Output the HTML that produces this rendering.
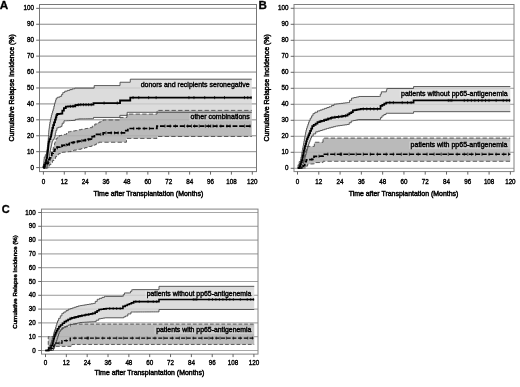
<!DOCTYPE html>
<html><head><meta charset="utf-8"><title>Figure</title>
<style>
html,body{margin:0;padding:0;background:#fff;}
body{width:520px;height:387px;overflow:hidden;font-family:"Liberation Sans", Arial, Helvetica, sans-serif;}
svg{display:block;filter:blur(0.35px);}
.grid{fill:none;}
.border{stroke-width:1;fill:none;}
.axt{stroke:#555;stroke-width:0.9;fill:none;}
.ci{stroke:#484848;stroke-width:0.9;fill:none;}
.main{stroke:#000;fill:none;stroke-linejoin:miter;}
.tick{stroke:#000;stroke-width:0.7;fill:none;}
text{font-family:"Liberation Sans", Arial, Helvetica, sans-serif;fill:#000;stroke:#000;stroke-width:0.3px;}
.tl{font-size:6.8px;stroke-width:0.38px;}
.tt{font-size:6.95px;stroke-width:0.45px;}
.lb{font-size:7px;stroke-width:0.4px;}
.pl{font-size:11px;font-weight:bold;fill:#000;}
</style></head>
<body>
<svg width="520" height="387" viewBox="0 0 520 387">
<rect width="520" height="387" fill="#fff"/>
<g id="chartA">
<line x1="39.5" y1="167.6" x2="256.5" y2="167.6" class="grid" stroke="#8c8c8c" stroke-width="0.9"/>
<line x1="39.5" y1="151.67" x2="256.5" y2="151.67" class="grid" stroke="#8c8c8c" stroke-width="0.9"/>
<line x1="39.5" y1="135.75" x2="256.5" y2="135.75" class="grid" stroke="#8c8c8c" stroke-width="0.9"/>
<line x1="39.5" y1="119.82" x2="256.5" y2="119.82" class="grid" stroke="#8c8c8c" stroke-width="0.9"/>
<line x1="39.5" y1="103.9" x2="256.5" y2="103.9" class="grid" stroke="#8c8c8c" stroke-width="0.9"/>
<line x1="39.5" y1="87.97" x2="256.5" y2="87.97" class="grid" stroke="#8c8c8c" stroke-width="0.9"/>
<line x1="39.5" y1="72.05" x2="256.5" y2="72.05" class="grid" stroke="#8c8c8c" stroke-width="0.9"/>
<line x1="39.5" y1="56.12" x2="256.5" y2="56.12" class="grid" stroke="#8c8c8c" stroke-width="0.9"/>
<line x1="39.5" y1="40.2" x2="256.5" y2="40.2" class="grid" stroke="#8c8c8c" stroke-width="0.9"/>
<line x1="39.5" y1="24.28" x2="256.5" y2="24.28" class="grid" stroke="#8c8c8c" stroke-width="0.9"/>
<line x1="39.5" y1="8.35" x2="256.5" y2="8.35" class="grid" stroke="#8c8c8c" stroke-width="0.9"/>
<path d="M43.5 168 L43.5 165.6 L43.61 165.6 L43.61 163.44 L43.83 163.44 L43.83 161.28 L44.04 161.28 L44.04 159.12 L44.26 159.12 L44.26 156.96 L44.37 156.96 L45.32 156.96 L45.32 154.72 L46.28 154.72 L46.48 154.72 L46.48 152.21 L46.88 152.21 L46.88 149.71 L47.29 149.71 L47.29 147.2 L47.49 147.2 L47.6 147.2 L47.6 145 L47.82 145 L47.82 142.8 L48.03 142.8 L48.03 140.6 L48.25 140.6 L48.25 138.4 L48.36 138.4 L48.42 138.4 L48.42 136.44 L48.55 136.44 L48.55 134.48 L48.68 134.48 L48.68 132.52 L48.81 132.52 L48.81 130.56 L48.88 130.56 L49.03 130.56 L49.03 128.42 L49.34 128.42 L49.34 126.28 L49.64 126.28 L49.64 124.14 L49.94 124.14 L49.94 122 L50.09 122 L50.35 122 L50.35 119.68 L50.88 119.68 L50.88 117.36 L51.4 117.36 L51.4 115.04 L51.66 115.04 L51.97 115.04 L51.97 112.96 L52.61 112.96 L52.61 110.88 L53.25 110.88 L53.25 108.8 L53.57 108.8 L53.87 108.8 L53.87 106.24 L54.48 106.24 L54.48 103.68 L54.78 103.68 L55.07 103.68 L55.07 101.81 L55.65 101.81 L55.65 99.95 L56.23 99.95 L56.23 98.08 L56.52 98.08 L57.64 98.08 L57.64 97.2 L59.9 97.2 L59.9 96.32 L61.03 96.32 L61.63 96.32 L61.63 94.4 L62.85 94.4 L62.85 92.48 L63.46 92.48 L64.76 92.48 L64.76 91.2 L66.06 91.2 L67.3 91.2 L67.3 90.4 L69.79 90.4 L69.79 89.6 L72.28 89.6 L72.28 88.8 L73.52 88.8 L74.74 88.8 L74.74 88.16 L75.95 88.16 L94.17 88.16 L94.17 85.6 L120.03 85.6 L120.03 82.24 L130.27 82.24 L130.27 79.2 L251.75 79.2 L251.75 112.32 L127.15 112.32 L127.15 115.36 L119.86 115.36 L119.86 117.44 L93.48 117.44 L93.48 118.72 L92.35 118.72 L92.35 118.75 L90.1 118.75 L90.1 118.77 L87.84 118.77 L87.84 118.8 L85.58 118.8 L85.58 118.83 L83.33 118.83 L83.33 118.85 L81.07 118.85 L81.07 118.88 L79.94 118.88 L79.08 118.88 L79.08 119.12 L77.34 119.12 L77.34 119.36 L76.47 119.36 L75.26 119.36 L75.26 120.4 L74.04 120.4 L72.98 120.4 L72.98 120.5 L70.85 120.5 L70.85 120.6 L68.73 120.6 L68.73 120.7 L66.6 120.7 L66.6 120.8 L65.54 120.8 L63.98 120.8 L63.98 123.2 L62.42 123.2 L62.24 123.2 L62.24 124.88 L61.9 124.88 L61.9 126.56 L61.72 126.56 L60.64 126.56 L60.64 127.2 L58.47 127.2 L58.47 127.84 L57.38 127.84 L56.91 127.84 L56.91 130.32 L55.95 130.32 L55.95 132.8 L55.47 132.8 L55.3 132.8 L55.3 135.2 L54.95 135.2 L54.95 137.6 L54.78 137.6 L54.17 137.6 L54.17 139.36 L52.96 139.36 L52.96 141.12 L52.35 141.12 L52.18 141.12 L52.18 142.8 L51.83 142.8 L51.83 144.48 L51.66 144.48 L51.45 144.48 L51.45 146.32 L51.05 146.32 L51.05 148.16 L50.64 148.16 L50.64 150 L50.44 150 L50.29 150 L50.29 151.94 L49.99 151.94 L49.99 153.88 L49.68 153.88 L49.68 155.82 L49.38 155.82 L49.38 157.76 L49.23 157.76 L48.97 157.76 L48.97 159.63 L48.45 159.63 L48.45 161.49 L47.93 161.49 L47.93 163.36 L47.66 163.36 L47.49 163.36 L47.49 165.68 L47.14 165.68 L47.14 168 L46.97 168 L44.02 168Z" fill="#dcdcdc" stroke="none"/>
<path d="M44.37 168 L44.8 168 L44.8 166.4 L45.24 166.4 L46.1 166.4 L46.1 164.8 L47.84 164.8 L47.84 163.2 L48.71 163.2 L49.14 163.2 L49.14 160.8 L50.01 160.8 L50.01 158.4 L50.44 158.4 L50.75 158.4 L50.75 156.56 L51.35 156.56 L51.35 154.72 L51.66 154.72 L51.98 154.72 L51.98 152.28 L52.63 152.28 L52.63 149.84 L53.28 149.84 L53.28 147.4 L53.93 147.4 L53.93 144.96 L54.26 144.96 L54.56 144.96 L54.56 143.2 L55.17 143.2 L55.17 141.44 L55.47 141.44 L56.08 141.44 L56.08 138.24 L56.69 138.24 L57.64 138.24 L57.64 136.32 L58.6 136.32 L59.38 136.32 L59.38 135.52 L60.16 135.52 L61.5 135.52 L61.5 134.96 L64.19 134.96 L64.19 134.4 L65.54 134.4 L66.54 134.4 L66.54 133.04 L68.53 133.04 L68.53 131.68 L69.53 131.68 L70.69 131.68 L70.69 131.31 L73 131.31 L73 130.93 L75.32 130.93 L75.32 130.56 L76.47 130.56 L77.34 130.56 L77.34 130.16 L79.08 130.16 L79.08 129.76 L79.94 129.76 L81.05 129.76 L81.05 129.34 L83.28 129.34 L83.28 128.93 L85.5 128.93 L85.5 128.51 L87.72 128.51 L87.72 128.1 L89.94 128.1 L89.94 127.68 L91.05 127.68 L92.31 127.68 L92.31 125.84 L94.82 125.84 L94.82 124 L96.08 124 L97.08 124 L97.08 123 L99.08 123 L99.08 122 L101.07 122 L101.07 121 L103.07 121 L103.07 120 L104.07 120 L119.86 120 L119.86 117.44 L126.97 117.44 L126.97 114.08 L157 114.08 L157 110.4 L251.75 110.4 L251.75 136.48 L157 136.48 L157 138.4 L126.45 138.4 L126.45 142.24 L100.07 142.24 L98.82 142.24 L98.82 143.44 L96.3 143.44 L96.3 144.64 L95.04 144.64 L94.87 144.64 L94.87 145.28 L94.69 145.28 L93.61 145.28 L93.61 145.88 L91.44 145.88 L91.44 146.48 L89.27 146.48 L89.27 147.08 L87.1 147.08 L87.1 147.68 L86.02 147.68 L85 147.68 L85 148.21 L82.98 148.21 L82.98 148.75 L80.96 148.75 L80.96 149.28 L79.94 149.28 L78.73 149.28 L78.73 149.71 L76.3 149.71 L76.3 150.13 L73.87 150.13 L73.87 150.56 L72.65 150.56 L71.09 150.56 L71.09 151.6 L69.53 151.6 L68.55 151.6 L68.55 151.8 L66.6 151.8 L66.6 152 L64.65 152 L64.65 152.2 L62.7 152.2 L62.7 152.4 L61.72 152.4 L60.72 152.4 L60.72 153.56 L58.73 153.56 L58.73 154.72 L57.73 154.72 L56.99 154.72 L56.99 156.64 L55.52 156.64 L55.52 158.56 L54.78 158.56 L54 158.56 L54 160.56 L52.44 160.56 L52.44 162.56 L51.66 162.56 L50.88 162.56 L50.88 164.64 L49.31 164.64 L49.31 166.72 L48.53 166.72 L48.19 166.72 L48.19 168 L47.84 168 L44.37 168Z" fill="#bababa" stroke="none"/>
<line x1="39.5" y1="151.67" x2="256.5" y2="151.67" class="grid" stroke="#8c8c8c" stroke-width="0.9" opacity="0.3"/>
<line x1="39.5" y1="135.75" x2="256.5" y2="135.75" class="grid" stroke="#8c8c8c" stroke-width="0.9" opacity="0.3"/>
<line x1="39.5" y1="119.82" x2="256.5" y2="119.82" class="grid" stroke="#8c8c8c" stroke-width="0.9" opacity="0.3"/>
<line x1="39.5" y1="103.9" x2="256.5" y2="103.9" class="grid" stroke="#8c8c8c" stroke-width="0.9" opacity="0.3"/>
<line x1="39.5" y1="87.97" x2="256.5" y2="87.97" class="grid" stroke="#8c8c8c" stroke-width="0.9" opacity="0.3"/>
<line x1="39.5" y1="72.05" x2="256.5" y2="72.05" class="grid" stroke="#8c8c8c" stroke-width="0.9" opacity="0.3"/>
<line x1="39.5" y1="56.12" x2="256.5" y2="56.12" class="grid" stroke="#8c8c8c" stroke-width="0.9" opacity="0.3"/>
<line x1="39.5" y1="40.2" x2="256.5" y2="40.2" class="grid" stroke="#8c8c8c" stroke-width="0.9" opacity="0.3"/>
<line x1="39.5" y1="24.28" x2="256.5" y2="24.28" class="grid" stroke="#8c8c8c" stroke-width="0.9" opacity="0.3"/>
<rect x="140.1" y="81.5" width="112" height="7.6" fill="#fff" opacity="0.22"/>
<rect x="189.2" y="113.3" width="63" height="7.6" fill="#fff" opacity="0.22"/>
<path d="M43.5 168 L43.5 165.6 L43.61 165.6 L43.61 163.44 L43.83 163.44 L43.83 161.28 L44.04 161.28 L44.04 159.12 L44.26 159.12 L44.26 156.96 L44.37 156.96 L45.32 156.96 L45.32 154.72 L46.28 154.72 L46.48 154.72 L46.48 152.21 L46.88 152.21 L46.88 149.71 L47.29 149.71 L47.29 147.2 L47.49 147.2 L47.6 147.2 L47.6 145 L47.82 145 L47.82 142.8 L48.03 142.8 L48.03 140.6 L48.25 140.6 L48.25 138.4 L48.36 138.4 L48.42 138.4 L48.42 136.44 L48.55 136.44 L48.55 134.48 L48.68 134.48 L48.68 132.52 L48.81 132.52 L48.81 130.56 L48.88 130.56 L49.03 130.56 L49.03 128.42 L49.34 128.42 L49.34 126.28 L49.64 126.28 L49.64 124.14 L49.94 124.14 L49.94 122 L50.09 122 L50.35 122 L50.35 119.68 L50.88 119.68 L50.88 117.36 L51.4 117.36 L51.4 115.04 L51.66 115.04 L51.97 115.04 L51.97 112.96 L52.61 112.96 L52.61 110.88 L53.25 110.88 L53.25 108.8 L53.57 108.8 L53.87 108.8 L53.87 106.24 L54.48 106.24 L54.48 103.68 L54.78 103.68 L55.07 103.68 L55.07 101.81 L55.65 101.81 L55.65 99.95 L56.23 99.95 L56.23 98.08 L56.52 98.08 L57.64 98.08 L57.64 97.2 L59.9 97.2 L59.9 96.32 L61.03 96.32 L61.63 96.32 L61.63 94.4 L62.85 94.4 L62.85 92.48 L63.46 92.48 L64.76 92.48 L64.76 91.2 L66.06 91.2 L67.3 91.2 L67.3 90.4 L69.79 90.4 L69.79 89.6 L72.28 89.6 L72.28 88.8 L73.52 88.8 L74.74 88.8 L74.74 88.16 L75.95 88.16 L94.17 88.16 L94.17 85.6 L120.03 85.6 L120.03 82.24 L130.27 82.24 L130.27 79.2 L251.75 79.2" class="ci"/>
<path d="M44.02 168 L46.97 168 L47.14 168 L47.14 165.68 L47.49 165.68 L47.49 163.36 L47.66 163.36 L47.93 163.36 L47.93 161.49 L48.45 161.49 L48.45 159.63 L48.97 159.63 L48.97 157.76 L49.23 157.76 L49.38 157.76 L49.38 155.82 L49.68 155.82 L49.68 153.88 L49.99 153.88 L49.99 151.94 L50.29 151.94 L50.29 150 L50.44 150 L50.64 150 L50.64 148.16 L51.05 148.16 L51.05 146.32 L51.45 146.32 L51.45 144.48 L51.66 144.48 L51.83 144.48 L51.83 142.8 L52.18 142.8 L52.18 141.12 L52.35 141.12 L52.96 141.12 L52.96 139.36 L54.17 139.36 L54.17 137.6 L54.78 137.6 L54.95 137.6 L54.95 135.2 L55.3 135.2 L55.3 132.8 L55.47 132.8 L55.95 132.8 L55.95 130.32 L56.91 130.32 L56.91 127.84 L57.38 127.84 L58.47 127.84 L58.47 127.2 L60.64 127.2 L60.64 126.56 L61.72 126.56 L61.9 126.56 L61.9 124.88 L62.24 124.88 L62.24 123.2 L62.42 123.2 L63.98 123.2 L63.98 120.8 L65.54 120.8 L66.6 120.8 L66.6 120.7 L68.73 120.7 L68.73 120.6 L70.85 120.6 L70.85 120.5 L72.98 120.5 L72.98 120.4 L74.04 120.4 L75.26 120.4 L75.26 119.36 L76.47 119.36 L77.34 119.36 L77.34 119.12 L79.08 119.12 L79.08 118.88 L79.94 118.88 L81.07 118.88 L81.07 118.85 L83.33 118.85 L83.33 118.83 L85.58 118.83 L85.58 118.8 L87.84 118.8 L87.84 118.77 L90.1 118.77 L90.1 118.75 L92.35 118.75 L92.35 118.72 L93.48 118.72 L93.48 117.44 L119.86 117.44 L119.86 115.36 L127.15 115.36 L127.15 112.32 L251.75 112.32" class="ci"/>
<path d="M44.37 168 L44.8 168 L44.8 166.4 L45.24 166.4 L46.1 166.4 L46.1 164.8 L47.84 164.8 L47.84 163.2 L48.71 163.2 L49.14 163.2 L49.14 160.8 L50.01 160.8 L50.01 158.4 L50.44 158.4 L50.75 158.4 L50.75 156.56 L51.35 156.56 L51.35 154.72 L51.66 154.72 L51.98 154.72 L51.98 152.28 L52.63 152.28 L52.63 149.84 L53.28 149.84 L53.28 147.4 L53.93 147.4 L53.93 144.96 L54.26 144.96 L54.56 144.96 L54.56 143.2 L55.17 143.2 L55.17 141.44 L55.47 141.44 L56.08 141.44 L56.08 138.24 L56.69 138.24 L57.64 138.24 L57.64 136.32 L58.6 136.32 L59.38 136.32 L59.38 135.52 L60.16 135.52 L61.5 135.52 L61.5 134.96 L64.19 134.96 L64.19 134.4 L65.54 134.4 L66.54 134.4 L66.54 133.04 L68.53 133.04 L68.53 131.68 L69.53 131.68 L70.69 131.68 L70.69 131.31 L73 131.31 L73 130.93 L75.32 130.93 L75.32 130.56 L76.47 130.56 L77.34 130.56 L77.34 130.16 L79.08 130.16 L79.08 129.76 L79.94 129.76 L81.05 129.76 L81.05 129.34 L83.28 129.34 L83.28 128.93 L85.5 128.93 L85.5 128.51 L87.72 128.51 L87.72 128.1 L89.94 128.1 L89.94 127.68 L91.05 127.68 L92.31 127.68 L92.31 125.84 L94.82 125.84 L94.82 124 L96.08 124 L97.08 124 L97.08 123 L99.08 123 L99.08 122 L101.07 122 L101.07 121 L103.07 121 L103.07 120 L104.07 120 L119.86 120 L119.86 117.44 L126.97 117.44 L126.97 114.08 L157 114.08 L157 110.4 L251.75 110.4" class="ci" stroke-dasharray="4.3 2.3"/>
<path d="M44.37 168 L47.84 168 L48.19 168 L48.19 166.72 L48.53 166.72 L49.31 166.72 L49.31 164.64 L50.88 164.64 L50.88 162.56 L51.66 162.56 L52.44 162.56 L52.44 160.56 L54 160.56 L54 158.56 L54.78 158.56 L55.52 158.56 L55.52 156.64 L56.99 156.64 L56.99 154.72 L57.73 154.72 L58.73 154.72 L58.73 153.56 L60.72 153.56 L60.72 152.4 L61.72 152.4 L62.7 152.4 L62.7 152.2 L64.65 152.2 L64.65 152 L66.6 152 L66.6 151.8 L68.55 151.8 L68.55 151.6 L69.53 151.6 L71.09 151.6 L71.09 150.56 L72.65 150.56 L73.87 150.56 L73.87 150.13 L76.3 150.13 L76.3 149.71 L78.73 149.71 L78.73 149.28 L79.94 149.28 L80.96 149.28 L80.96 148.75 L82.98 148.75 L82.98 148.21 L85 148.21 L85 147.68 L86.02 147.68 L87.1 147.68 L87.1 147.08 L89.27 147.08 L89.27 146.48 L91.44 146.48 L91.44 145.88 L93.61 145.88 L93.61 145.28 L94.69 145.28 L94.87 145.28 L94.87 144.64 L95.04 144.64 L96.3 144.64 L96.3 143.44 L98.82 143.44 L98.82 142.24 L100.07 142.24 L126.45 142.24 L126.45 138.4 L157 138.4 L157 136.48 L251.75 136.48" class="ci" stroke-dasharray="4.3 2.3"/>
<path d="M43.5 168 L43.67 168 L43.67 166.72 L43.85 166.72 L44.32 166.72 L44.32 164.64 L45.28 164.64 L45.28 162.56 L45.76 162.56 L46.02 162.56 L46.02 160.21 L46.54 160.21 L46.54 157.87 L47.06 157.87 L47.06 155.52 L47.32 155.52 L47.43 155.52 L47.43 153.56 L47.64 153.56 L47.64 151.6 L47.86 151.6 L47.86 149.64 L48.08 149.64 L48.08 147.68 L48.19 147.68 L48.3 147.68 L48.3 145.65 L48.53 145.65 L48.53 143.63 L48.76 143.63 L48.76 141.6 L48.88 141.6 L49.4 141.6 L49.4 139.12 L50.44 139.12 L50.44 136.64 L50.96 136.64 L51.14 136.64 L51.14 134.61 L51.48 134.61 L51.48 132.59 L51.83 132.59 L51.83 130.56 L52 130.56 L52.39 130.56 L52.39 127.84 L53.17 127.84 L53.17 125.12 L53.57 125.12 L54.04 125.12 L54.04 122.4 L55 122.4 L55 119.68 L55.47 119.68 L55.78 119.68 L55.78 117.36 L56.39 117.36 L56.39 115.04 L56.69 115.04 L57.21 115.04 L57.21 114 L57.73 114 L58.73 114 L58.73 113.8 L60.72 113.8 L60.72 113.6 L61.72 113.6 L62.33 113.6 L62.33 110.56 L62.94 110.56 L63.89 110.56 L63.89 108.16 L64.85 108.16 L65.8 108.16 L65.8 106.56 L66.75 106.56 L67.97 106.56 L67.97 106.45 L70.4 106.45 L70.4 106.35 L72.83 106.35 L72.83 106.24 L74.04 106.24 L75.26 106.24 L75.26 105.12 L76.47 105.12 L77.34 105.12 L77.34 104.88 L79.08 104.88 L79.08 104.64 L79.94 104.64 L93.48 104.64 L93.48 103.04 L120.03 103.04 L120.03 100.48 L130.27 100.48 L130.27 97.6 L251.75 97.6" class="main" stroke-width="1.8"/>
<path d="M70.4 104.8V108M73 104.69V107.89M75.6 103.92V107.12M78.21 103.28V106.48M80.81 103.04V106.24M83.41 103.04V106.24M86.02 103.04V106.24M88.62 103.04V106.24M91.22 103.04V106.24M104.07 101.44V104.64M117.25 101.44V104.64M133.05 96V99.2M138.77 96V99.2M148.67 96V99.2M156.13 96V99.2M188.93 96V99.2M193.96 96V99.2M204.72 96V99.2M214.61 96V99.2M224.5 96V99.2M244.46 96V99.2M247.76 96V99.2M251.05 96V99.2" class="tick"/>
<path d="M43.5 168 L43.67 168 L43.67 166.72 L43.85 166.72 L44.8 166.72 L44.8 165.04 L46.71 165.04 L46.71 163.36 L47.66 163.36 L48.07 163.36 L48.07 161.49 L48.88 161.49 L48.88 159.63 L49.69 159.63 L49.69 157.76 L50.09 157.76 L50.66 157.76 L50.66 155.48 L51.79 155.48 L51.79 153.2 L52.35 153.2 L53.13 153.2 L53.13 151.24 L54.69 151.24 L54.69 149.28 L55.47 149.28 L57.04 149.28 L57.04 147.04 L58.6 147.04 L59.77 147.04 L59.77 146.24 L62.11 146.24 L62.11 145.44 L63.28 145.44 L64.45 145.44 L64.45 145.04 L66.8 145.04 L66.8 144.64 L67.97 144.64 L69.14 144.64 L69.14 143.68 L71.48 143.68 L71.48 142.72 L72.65 142.72 L73.87 142.72 L73.87 142.21 L76.3 142.21 L76.3 141.71 L78.73 141.71 L78.73 141.2 L79.94 141.2 L81.05 141.2 L81.05 140.77 L83.28 140.77 L83.28 140.34 L85.5 140.34 L85.5 139.9 L87.72 139.9 L87.72 139.47 L89.94 139.47 L89.94 139.04 L91.05 139.04 L92.18 139.04 L92.18 136.72 L94.43 136.72 L94.43 134.4 L95.56 134.4 L103.2 134.4 L103.2 132.8 L124.72 132.8 L125.76 132.8 L125.76 130.64 L127.84 130.64 L127.84 128.48 L128.88 128.48 L155.26 128.48 L156.91 128.48 L156.91 126.08 L158.56 126.08 L251.75 126.08" class="main" stroke-width="1.7" stroke-dasharray="4.8 1.8"/>
<path d="M57.38 146.31V149.51M61.72 144.37V147.57M66.06 143.37V146.57M69.53 142.4V145.6M73 141.05V144.25M77.34 140.14V143.34M81.68 139.26V142.46M85.15 138.59V141.79M88.62 137.91V141.11M92.09 136.37V139.57M100.77 132.8V136M105.97 131.2V134.4M111.18 131.2V134.4M114.65 131.2V134.4M118.12 131.2V134.4M121.59 131.2V134.4M133.74 126.88V130.08M138.95 126.88V130.08M144.15 126.88V130.08M149.36 126.88V130.08M164.98 124.48V127.68M170.18 124.48V127.68M175.39 124.48V127.68M184.59 124.48V127.68M187.71 124.48V127.68M191.53 124.48V127.68M194.65 124.48V127.68M199.17 124.48V127.68M205.41 124.48V127.68M208.54 124.48V127.68M210.79 124.48V127.68M213.05 124.48V127.68M216.87 124.48V127.68M220.86 124.48V127.68M226.93 124.48V127.68M230.06 124.48V127.68M244.63 124.48V127.68M250.01 124.48V127.68" class="tick"/>
<rect x="39.5" y="4.5" width="217" height="167.1" class="border" stroke="#777"/>
<text transform="translate(33.9 169.7) scale(0.92 1)" text-anchor="end" class="tl">0</text>
<text transform="translate(33.9 153.77) scale(0.92 1)" text-anchor="end" class="tl">10</text>
<text transform="translate(33.9 137.85) scale(0.92 1)" text-anchor="end" class="tl">20</text>
<text transform="translate(33.9 121.92) scale(0.92 1)" text-anchor="end" class="tl">30</text>
<text transform="translate(33.9 106) scale(0.92 1)" text-anchor="end" class="tl">40</text>
<text transform="translate(33.9 90.07) scale(0.92 1)" text-anchor="end" class="tl">50</text>
<text transform="translate(33.9 74.15) scale(0.92 1)" text-anchor="end" class="tl">60</text>
<text transform="translate(33.9 58.22) scale(0.92 1)" text-anchor="end" class="tl">70</text>
<text transform="translate(33.9 42.3) scale(0.92 1)" text-anchor="end" class="tl">80</text>
<text transform="translate(33.9 26.38) scale(0.92 1)" text-anchor="end" class="tl">90</text>
<text transform="translate(33.9 10.45) scale(0.92 1)" text-anchor="end" class="tl">100</text>
<text transform="translate(43.4 183.6) scale(0.92 1)" text-anchor="middle" class="tl">0</text>
<text transform="translate(64.29 183.6) scale(0.92 1)" text-anchor="middle" class="tl">12</text>
<text transform="translate(85.18 183.6) scale(0.92 1)" text-anchor="middle" class="tl">24</text>
<text transform="translate(106.07 183.6) scale(0.92 1)" text-anchor="middle" class="tl">36</text>
<text transform="translate(126.96 183.6) scale(0.92 1)" text-anchor="middle" class="tl">48</text>
<text transform="translate(147.85 183.6) scale(0.92 1)" text-anchor="middle" class="tl">60</text>
<text transform="translate(168.74 183.6) scale(0.92 1)" text-anchor="middle" class="tl">72</text>
<text transform="translate(189.63 183.6) scale(0.92 1)" text-anchor="middle" class="tl">84</text>
<text transform="translate(210.52 183.6) scale(0.92 1)" text-anchor="middle" class="tl">96</text>
<text transform="translate(231.41 183.6) scale(0.92 1)" text-anchor="middle" class="tl">108</text>
<text transform="translate(252.3 183.6) scale(0.92 1)" text-anchor="middle" class="tl">120</text>
<path d="M36.2 167.6H39.5M36.2 151.67H39.5M36.2 135.75H39.5M36.2 119.82H39.5M36.2 103.9H39.5M36.2 87.97H39.5M36.2 72.05H39.5M36.2 56.12H39.5M36.2 40.2H39.5M36.2 24.28H39.5M36.2 8.35H39.5M43.4 171.6V174.6M64.29 171.6V174.6M85.18 171.6V174.6M106.07 171.6V174.6M126.96 171.6V174.6M147.85 171.6V174.6M168.74 171.6V174.6M189.63 171.6V174.6M210.52 171.6V174.6M231.41 171.6V174.6M252.3 171.6V174.6" class="axt"/>
<text transform="translate(14.3 87.8) rotate(-90)" text-anchor="middle" class="tt" style="font-size:7px">Cumulative Relapse Incidence (%)</text>
<text x="148.4" y="195.8" text-anchor="middle" class="tt">Time after Transplantation (Months)</text>
<text x="249.6" y="87.4" text-anchor="end" class="lb" style="font-size:7px">donors and recipients seronegative</text>
<text x="249.7" y="119.2" text-anchor="end" class="lb" style="font-size:7px">other combinations</text>
<text x="-0.2" y="8.9" class="pl" style="font-size:11.7px">A</text>
</g>
<g id="chartB">
<line x1="294" y1="168.3" x2="514" y2="168.3" class="grid" stroke="#a2a2a2" stroke-width="0.95"/>
<line x1="294" y1="152.3" x2="514" y2="152.3" class="grid" stroke="#a2a2a2" stroke-width="0.95"/>
<line x1="294" y1="136.3" x2="514" y2="136.3" class="grid" stroke="#a2a2a2" stroke-width="0.95"/>
<line x1="294" y1="120.3" x2="514" y2="120.3" class="grid" stroke="#a2a2a2" stroke-width="0.95"/>
<line x1="294" y1="104.3" x2="514" y2="104.3" class="grid" stroke="#a2a2a2" stroke-width="0.95"/>
<line x1="294" y1="88.3" x2="514" y2="88.3" class="grid" stroke="#a2a2a2" stroke-width="0.95"/>
<line x1="294" y1="72.3" x2="514" y2="72.3" class="grid" stroke="#a2a2a2" stroke-width="0.95"/>
<line x1="294" y1="56.3" x2="514" y2="56.3" class="grid" stroke="#a2a2a2" stroke-width="0.95"/>
<line x1="294" y1="40.3" x2="514" y2="40.3" class="grid" stroke="#a2a2a2" stroke-width="0.95"/>
<line x1="294" y1="24.3" x2="514" y2="24.3" class="grid" stroke="#a2a2a2" stroke-width="0.95"/>
<line x1="294" y1="8.3" x2="514" y2="8.3" class="grid" stroke="#a2a2a2" stroke-width="0.95"/>
<path d="M298.05 168 L298.05 164.8 L299.21 164.8 L299.21 161.6 L300.36 161.6 L300.57 161.6 L300.57 159.32 L300.99 159.32 L300.99 157.04 L301.41 157.04 L301.41 154.76 L301.83 154.76 L301.83 152.48 L302.25 152.48 L302.25 150.2 L302.67 150.2 L302.67 147.92 L303.09 147.92 L303.09 145.64 L303.51 145.64 L303.51 143.36 L303.72 143.36 L303.93 143.36 L303.93 141.17 L304.34 141.17 L304.34 138.99 L304.76 138.99 L304.76 136.8 L305.17 136.8 L305.17 134.61 L305.58 134.61 L305.58 132.43 L306 132.43 L306 130.24 L306.2 130.24 L306.54 130.24 L306.54 128.26 L307.21 128.26 L307.21 126.27 L307.89 126.27 L307.89 124.29 L308.56 124.29 L308.56 122.3 L309.23 122.3 L309.23 120.32 L309.57 120.32 L310.25 120.32 L310.25 118.08 L311.61 118.08 L311.61 115.84 L312.97 115.84 L312.97 113.6 L313.65 113.6 L314.93 113.6 L314.93 112.24 L317.5 112.24 L317.5 110.88 L318.78 110.88 L319.93 110.88 L319.93 110.05 L322.24 110.05 L322.24 109.22 L324.54 109.22 L324.54 108.38 L326.84 108.38 L326.84 107.55 L329.15 107.55 L329.15 106.72 L330.3 106.72 L331.54 106.72 L331.54 105.44 L334.02 105.44 L334.02 104.16 L335.26 104.16 L336.37 104.16 L336.37 103.89 L338.58 103.89 L338.58 103.63 L340.8 103.63 L340.8 103.36 L343.01 103.36 L343.01 103.09 L345.23 103.09 L345.23 102.83 L347.44 102.83 L347.44 102.56 L348.55 102.56 L349.57 102.56 L349.57 100.32 L351.6 100.32 L351.6 98.08 L352.62 98.08 L353.86 98.08 L353.86 97.55 L356.34 97.55 L356.34 97.01 L358.82 97.01 L358.82 96.48 L360.06 96.48 L379.73 96.48 L380.26 96.48 L380.26 94.16 L381.32 94.16 L381.32 91.84 L381.86 91.84 L386.11 91.84 L386.37 91.84 L386.37 90.16 L386.91 90.16 L386.91 88.48 L387.17 88.48 L413.57 88.48 L413.57 86.56 L510.3 86.56 L510.3 111.68 L413.57 111.68 L413.57 113.28 L387.17 113.28 L386.06 113.28 L386.06 114.56 L383.85 114.56 L383.85 115.84 L382.74 115.84 L381.99 115.84 L381.99 117.68 L380.48 117.68 L380.48 119.52 L379.73 119.52 L358.82 119.52 L357.73 119.52 L357.73 120 L355.55 120 L355.55 120.48 L353.36 120.48 L353.36 120.96 L352.27 120.96 L351.25 120.96 L351.25 122.72 L349.21 122.72 L349.21 124.48 L348.19 124.48 L347.04 124.48 L347.04 124.8 L344.74 124.8 L344.74 125.12 L342.44 125.12 L342.44 125.44 L340.13 125.44 L340.13 125.76 L337.83 125.76 L337.83 126.08 L336.68 126.08 L335.55 126.08 L335.55 126.68 L333.29 126.68 L333.29 127.28 L331.03 127.28 L331.03 127.88 L328.77 127.88 L328.77 128.48 L327.64 128.48 L326.58 128.48 L326.58 129.15 L324.45 129.15 L324.45 129.82 L322.33 129.82 L322.33 130.5 L320.2 130.5 L320.2 131.17 L318.07 131.17 L318.07 131.84 L317.01 131.84 L315.73 131.84 L315.73 133.92 L313.16 133.92 L313.16 136 L311.87 136 L311.47 136 L311.47 138.04 L310.68 138.04 L310.68 140.08 L309.88 140.08 L309.88 142.12 L309.08 142.12 L309.08 144.16 L308.68 144.16 L308.4 144.16 L308.4 146.24 L307.84 146.24 L307.84 148.32 L307.28 148.32 L307.28 150.4 L306.72 150.4 L306.72 152.48 L306.16 152.48 L306.16 154.56 L305.6 154.56 L305.6 156.64 L305.32 156.64 L304.98 156.64 L304.98 158.91 L304.31 158.91 L304.31 161.18 L303.64 161.18 L303.64 163.46 L302.96 163.46 L302.96 165.73 L302.29 165.73 L302.29 168 L301.95 168 L298.05 168Z" fill="#dcdcdc" stroke="none"/>
<path d="M301.24 168 L301.58 168 L301.58 165.6 L302.24 165.6 L302.24 163.2 L302.9 163.2 L302.9 160.8 L303.57 160.8 L303.57 158.4 L303.9 158.4 L304.23 158.4 L304.23 156 L304.9 156 L304.9 153.6 L305.56 153.6 L305.56 151.2 L306.23 151.2 L306.23 148.8 L306.56 148.8 L307.27 148.8 L307.27 146.4 L307.98 146.4 L314.35 146.4 L314.35 142.24 L323.04 142.24 L323.04 138.08 L510.3 138.08 L510.3 161.28 L323.04 161.28 L323.04 162.56 L314.35 162.56 L314.35 163.84 L313.38 163.84 L313.38 163.95 L311.43 163.95 L311.43 164.05 L309.48 164.05 L309.48 164.16 L308.51 164.16 L307.58 164.16 L307.58 166.08 L305.72 166.08 L305.72 168 L304.79 168 L301.24 168Z" fill="#bababa" stroke="none"/>
<line x1="294" y1="152.3" x2="514" y2="152.3" class="grid" stroke="#a2a2a2" stroke-width="0.95" opacity="0.3"/>
<line x1="294" y1="136.3" x2="514" y2="136.3" class="grid" stroke="#a2a2a2" stroke-width="0.95" opacity="0.3"/>
<line x1="294" y1="120.3" x2="514" y2="120.3" class="grid" stroke="#a2a2a2" stroke-width="0.95" opacity="0.3"/>
<line x1="294" y1="104.3" x2="514" y2="104.3" class="grid" stroke="#a2a2a2" stroke-width="0.95" opacity="0.3"/>
<line x1="294" y1="88.3" x2="514" y2="88.3" class="grid" stroke="#a2a2a2" stroke-width="0.95" opacity="0.3"/>
<line x1="294" y1="72.3" x2="514" y2="72.3" class="grid" stroke="#a2a2a2" stroke-width="0.95" opacity="0.3"/>
<line x1="294" y1="56.3" x2="514" y2="56.3" class="grid" stroke="#a2a2a2" stroke-width="0.95" opacity="0.3"/>
<line x1="294" y1="40.3" x2="514" y2="40.3" class="grid" stroke="#a2a2a2" stroke-width="0.95" opacity="0.3"/>
<line x1="294" y1="24.3" x2="514" y2="24.3" class="grid" stroke="#a2a2a2" stroke-width="0.95" opacity="0.3"/>
<rect x="399.6" y="90" width="110.6" height="7.6" fill="#fff" opacity="0.22"/>
<rect x="409" y="141.5" width="101" height="7.6" fill="#fff" opacity="0.22"/>
<path d="M298.05 168 L298.05 164.8 L299.21 164.8 L299.21 161.6 L300.36 161.6 L300.57 161.6 L300.57 159.32 L300.99 159.32 L300.99 157.04 L301.41 157.04 L301.41 154.76 L301.83 154.76 L301.83 152.48 L302.25 152.48 L302.25 150.2 L302.67 150.2 L302.67 147.92 L303.09 147.92 L303.09 145.64 L303.51 145.64 L303.51 143.36 L303.72 143.36 L303.93 143.36 L303.93 141.17 L304.34 141.17 L304.34 138.99 L304.76 138.99 L304.76 136.8 L305.17 136.8 L305.17 134.61 L305.58 134.61 L305.58 132.43 L306 132.43 L306 130.24 L306.2 130.24 L306.54 130.24 L306.54 128.26 L307.21 128.26 L307.21 126.27 L307.89 126.27 L307.89 124.29 L308.56 124.29 L308.56 122.3 L309.23 122.3 L309.23 120.32 L309.57 120.32 L310.25 120.32 L310.25 118.08 L311.61 118.08 L311.61 115.84 L312.97 115.84 L312.97 113.6 L313.65 113.6 L314.93 113.6 L314.93 112.24 L317.5 112.24 L317.5 110.88 L318.78 110.88 L319.93 110.88 L319.93 110.05 L322.24 110.05 L322.24 109.22 L324.54 109.22 L324.54 108.38 L326.84 108.38 L326.84 107.55 L329.15 107.55 L329.15 106.72 L330.3 106.72 L331.54 106.72 L331.54 105.44 L334.02 105.44 L334.02 104.16 L335.26 104.16 L336.37 104.16 L336.37 103.89 L338.58 103.89 L338.58 103.63 L340.8 103.63 L340.8 103.36 L343.01 103.36 L343.01 103.09 L345.23 103.09 L345.23 102.83 L347.44 102.83 L347.44 102.56 L348.55 102.56 L349.57 102.56 L349.57 100.32 L351.6 100.32 L351.6 98.08 L352.62 98.08 L353.86 98.08 L353.86 97.55 L356.34 97.55 L356.34 97.01 L358.82 97.01 L358.82 96.48 L360.06 96.48 L379.73 96.48 L380.26 96.48 L380.26 94.16 L381.32 94.16 L381.32 91.84 L381.86 91.84 L386.11 91.84 L386.37 91.84 L386.37 90.16 L386.91 90.16 L386.91 88.48 L387.17 88.48 L413.57 88.48 L413.57 86.56 L510.3 86.56" class="ci"/>
<path d="M298.05 168 L301.95 168 L302.29 168 L302.29 165.73 L302.96 165.73 L302.96 163.46 L303.64 163.46 L303.64 161.18 L304.31 161.18 L304.31 158.91 L304.98 158.91 L304.98 156.64 L305.32 156.64 L305.6 156.64 L305.6 154.56 L306.16 154.56 L306.16 152.48 L306.72 152.48 L306.72 150.4 L307.28 150.4 L307.28 148.32 L307.84 148.32 L307.84 146.24 L308.4 146.24 L308.4 144.16 L308.68 144.16 L309.08 144.16 L309.08 142.12 L309.88 142.12 L309.88 140.08 L310.68 140.08 L310.68 138.04 L311.47 138.04 L311.47 136 L311.87 136 L313.16 136 L313.16 133.92 L315.73 133.92 L315.73 131.84 L317.01 131.84 L318.07 131.84 L318.07 131.17 L320.2 131.17 L320.2 130.5 L322.33 130.5 L322.33 129.82 L324.45 129.82 L324.45 129.15 L326.58 129.15 L326.58 128.48 L327.64 128.48 L328.77 128.48 L328.77 127.88 L331.03 127.88 L331.03 127.28 L333.29 127.28 L333.29 126.68 L335.55 126.68 L335.55 126.08 L336.68 126.08 L337.83 126.08 L337.83 125.76 L340.13 125.76 L340.13 125.44 L342.44 125.44 L342.44 125.12 L344.74 125.12 L344.74 124.8 L347.04 124.8 L347.04 124.48 L348.19 124.48 L349.21 124.48 L349.21 122.72 L351.25 122.72 L351.25 120.96 L352.27 120.96 L353.36 120.96 L353.36 120.48 L355.55 120.48 L355.55 120 L357.73 120 L357.73 119.52 L358.82 119.52 L379.73 119.52 L380.48 119.52 L380.48 117.68 L381.99 117.68 L381.99 115.84 L382.74 115.84 L383.85 115.84 L383.85 114.56 L386.06 114.56 L386.06 113.28 L387.17 113.28 L413.57 113.28 L413.57 111.68 L510.3 111.68" class="ci"/>
<path d="M301.24 168 L301.58 168 L301.58 165.6 L302.24 165.6 L302.24 163.2 L302.9 163.2 L302.9 160.8 L303.57 160.8 L303.57 158.4 L303.9 158.4 L304.23 158.4 L304.23 156 L304.9 156 L304.9 153.6 L305.56 153.6 L305.56 151.2 L306.23 151.2 L306.23 148.8 L306.56 148.8 L307.27 148.8 L307.27 146.4 L307.98 146.4 L314.35 146.4 L314.35 142.24 L323.04 142.24 L323.04 138.08 L510.3 138.08" class="ci" stroke-dasharray="4.3 2.3"/>
<path d="M301.24 168 L304.79 168 L305.72 168 L305.72 166.08 L307.58 166.08 L307.58 164.16 L308.51 164.16 L309.48 164.16 L309.48 164.05 L311.43 164.05 L311.43 163.95 L313.38 163.95 L313.38 163.84 L314.35 163.84 L314.35 162.56 L323.04 162.56 L323.04 161.28 L510.3 161.28" class="ci" stroke-dasharray="4.3 2.3"/>
<path d="M297.7 168 L299.12 168 L299.49 168 L299.49 166 L300.25 166 L300.25 164 L301 164 L301 162 L301.75 162 L301.75 160 L302.13 160 L302.38 160 L302.38 157.66 L302.87 157.66 L302.87 155.33 L303.37 155.33 L303.37 152.99 L303.87 152.99 L303.87 150.66 L304.36 150.66 L304.36 148.32 L304.61 148.32 L304.92 148.32 L304.92 146.04 L305.54 146.04 L305.54 143.76 L306.16 143.76 L306.16 141.48 L306.78 141.48 L306.78 139.2 L307.09 139.2 L307.5 139.2 L307.5 137.28 L308.33 137.28 L308.33 135.36 L309.16 135.36 L309.16 133.44 L309.57 133.44 L310.1 133.44 L310.1 130.99 L311.16 130.99 L311.16 128.53 L312.23 128.53 L312.23 126.08 L312.76 126.08 L313.7 126.08 L313.7 124.8 L315.59 124.8 L315.59 123.52 L317.48 123.52 L317.48 122.24 L318.43 122.24 L319.54 122.24 L319.54 121.49 L321.75 121.49 L321.75 120.75 L323.97 120.75 L323.97 120 L326.18 120 L326.18 119.25 L328.39 119.25 L328.39 118.51 L330.61 118.51 L330.61 117.76 L331.72 117.76 L332.78 117.76 L332.78 117.46 L334.91 117.46 L334.91 117.17 L337.03 117.17 L337.03 116.87 L339.16 116.87 L339.16 116.57 L341.28 116.57 L341.28 116.27 L343.41 116.27 L343.41 115.98 L345.54 115.98 L345.54 115.68 L346.6 115.68 L347.54 115.68 L347.54 114.45 L349.43 114.45 L349.43 113.23 L351.32 113.23 L351.32 112 L352.27 112 L352.89 112 L352.89 110.4 L353.51 110.4 L354.53 110.4 L354.53 110.04 L356.56 110.04 L356.56 109.68 L358.6 109.68 L358.6 109.32 L360.64 109.32 L360.64 108.96 L361.66 108.96 L379.73 108.96 L380.53 108.96 L380.53 105.92 L381.32 105.92 L382.3 105.92 L382.3 104.8 L384.25 104.8 L384.25 103.68 L386.2 103.68 L386.2 102.56 L387.17 102.56 L413.57 102.56 L413.57 100.48 L510.3 100.48" class="main" stroke-width="1.75"/>
<path d="M320.73 119.86V123.06M324.28 118.67V121.87M327.82 117.47V120.67M331.36 116.28V119.48M334.91 115.71V118.91M338.45 115.22V118.42M341.99 114.72V117.92M345.54 114.23V117.43M363.25 107.36V110.56M366.8 107.36V110.56M370.34 107.36V110.56M373.88 107.36V110.56M377.43 107.36V110.56M389.83 100.96V104.16M393.37 100.96V104.16M402.23 100.96V104.16M407.55 100.96V104.16M411.09 100.96V104.16M448.29 98.88V102.08M450.07 98.88V102.08M451.84 98.88V102.08M464.24 98.88V102.08M467.78 98.88V102.08M471.33 98.88V102.08M474.87 98.88V102.08M478.41 98.88V102.08M481.96 98.88V102.08M485.5 98.88V102.08M489.04 98.88V102.08M496.13 98.88V102.08M503.22 98.88V102.08M506.76 98.88V102.08M509.42 98.88V102.08" class="tick"/>
<path d="M297.7 168 L302.13 168 L303.28 168 L303.28 165.76 L304.43 165.76 L304.79 165.76 L304.79 163.68 L305.5 163.68 L305.5 161.6 L305.85 161.6 L306.29 161.6 L306.29 159.84 L306.74 159.84 L307.8 159.84 L307.8 159.68 L309.92 159.68 L309.92 159.52 L312.05 159.52 L312.05 159.36 L313.11 159.36 L314 159.36 L314 156.4 L314.89 156.4 L316.16 156.4 L316.16 156.32 L318.69 156.32 L318.69 156.24 L321.23 156.24 L321.23 156.16 L322.5 156.16 L323.12 156.16 L323.12 154.24 L323.74 154.24 L510.3 154.24" class="main" stroke-width="1.65" stroke-dasharray="4.8 1.8"/>
<path d="M311.87 157.85V161.05M318.96 154.67V157.87M327.82 152.64V155.84M334.91 152.64V155.84M340.22 152.64V155.84M340.93 152.64V155.84M341.64 152.64V155.84M349.08 152.64V155.84M356.17 152.64V155.84M363.25 152.64V155.84M370.34 152.64V155.84M377.43 152.64V155.84M386.28 152.64V155.84M393.37 152.64V155.84M401.34 152.64V155.84M409.32 152.64V155.84M418.18 152.64V155.84M427.03 152.64V155.84M434.12 152.64V155.84M441.21 152.64V155.84M448.29 152.64V155.84M457.15 152.64V155.84M464.24 152.64V155.84M467.78 152.64V155.84M471.68 152.64V155.84M475.58 152.64V155.84M481.96 152.64V155.84M489.04 152.64V155.84M496.13 152.64V155.84M503.75 152.64V155.84M508.53 152.64V155.84" class="tick"/>
<rect x="294" y="4.5" width="220" height="167.1" class="border" stroke="#808080"/>
<text transform="translate(288.5 170.4) scale(0.92 1)" text-anchor="end" class="tl">0</text>
<text transform="translate(288.5 154.4) scale(0.92 1)" text-anchor="end" class="tl">10</text>
<text transform="translate(288.5 138.4) scale(0.92 1)" text-anchor="end" class="tl">20</text>
<text transform="translate(288.5 122.4) scale(0.92 1)" text-anchor="end" class="tl">30</text>
<text transform="translate(288.5 106.4) scale(0.92 1)" text-anchor="end" class="tl">40</text>
<text transform="translate(288.5 90.4) scale(0.92 1)" text-anchor="end" class="tl">50</text>
<text transform="translate(288.5 74.4) scale(0.92 1)" text-anchor="end" class="tl">60</text>
<text transform="translate(288.5 58.4) scale(0.92 1)" text-anchor="end" class="tl">70</text>
<text transform="translate(288.5 42.4) scale(0.92 1)" text-anchor="end" class="tl">80</text>
<text transform="translate(288.5 26.4) scale(0.92 1)" text-anchor="end" class="tl">90</text>
<text transform="translate(288.5 10.4) scale(0.92 1)" text-anchor="end" class="tl">100</text>
<text transform="translate(297.5 183.6) scale(0.92 1)" text-anchor="middle" class="tl">0</text>
<text transform="translate(318.79 183.6) scale(0.92 1)" text-anchor="middle" class="tl">12</text>
<text transform="translate(340.08 183.6) scale(0.92 1)" text-anchor="middle" class="tl">24</text>
<text transform="translate(361.36 183.6) scale(0.92 1)" text-anchor="middle" class="tl">36</text>
<text transform="translate(382.65 183.6) scale(0.92 1)" text-anchor="middle" class="tl">48</text>
<text transform="translate(403.94 183.6) scale(0.92 1)" text-anchor="middle" class="tl">60</text>
<text transform="translate(425.23 183.6) scale(0.92 1)" text-anchor="middle" class="tl">72</text>
<text transform="translate(446.52 183.6) scale(0.92 1)" text-anchor="middle" class="tl">84</text>
<text transform="translate(467.8 183.6) scale(0.92 1)" text-anchor="middle" class="tl">96</text>
<text transform="translate(489.09 183.6) scale(0.92 1)" text-anchor="middle" class="tl">108</text>
<text transform="translate(510.38 183.6) scale(0.92 1)" text-anchor="middle" class="tl">120</text>
<path d="M290.7 168.3H294M290.7 152.3H294M290.7 136.3H294M290.7 120.3H294M290.7 104.3H294M290.7 88.3H294M290.7 72.3H294M290.7 56.3H294M290.7 40.3H294M290.7 24.3H294M290.7 8.3H294M297.5 171.6V174.6M318.79 171.6V174.6M340.08 171.6V174.6M361.36 171.6V174.6M382.65 171.6V174.6M403.94 171.6V174.6M425.23 171.6V174.6M446.52 171.6V174.6M467.8 171.6V174.6M489.09 171.6V174.6M510.38 171.6V174.6" class="axt"/>
<text transform="translate(269.3 87.8) rotate(-90)" text-anchor="middle" class="tt" style="font-size:7px">Cumulative Relapse Incidence (%)</text>
<text x="403.5" y="195.8" text-anchor="middle" class="tt">Time after Transplantation (Months)</text>
<text x="507.7" y="95.9" text-anchor="end" class="lb" style="font-size:7px">patients without pp65-antigenemia</text>
<text x="507.5" y="147.4" text-anchor="end" class="lb" style="font-size:7px">patients with pp65-antigenemia</text>
<text x="258.6" y="9" class="pl" style="font-size:11.6px">B</text>
</g>
<g id="chartC">
<line x1="41.5" y1="350.5" x2="258" y2="350.5" class="grid" stroke="#909090" stroke-width="0.8"/>
<line x1="41.5" y1="336.7" x2="258" y2="336.7" class="grid" stroke="#909090" stroke-width="0.8"/>
<line x1="41.5" y1="322.9" x2="258" y2="322.9" class="grid" stroke="#909090" stroke-width="0.8"/>
<line x1="41.5" y1="309.1" x2="258" y2="309.1" class="grid" stroke="#909090" stroke-width="0.8"/>
<line x1="41.5" y1="295.3" x2="258" y2="295.3" class="grid" stroke="#909090" stroke-width="0.8"/>
<line x1="41.5" y1="281.5" x2="258" y2="281.5" class="grid" stroke="#909090" stroke-width="0.8"/>
<line x1="41.5" y1="267.7" x2="258" y2="267.7" class="grid" stroke="#909090" stroke-width="0.8"/>
<line x1="41.5" y1="253.9" x2="258" y2="253.9" class="grid" stroke="#909090" stroke-width="0.8"/>
<line x1="41.5" y1="240.1" x2="258" y2="240.1" class="grid" stroke="#909090" stroke-width="0.8"/>
<line x1="41.5" y1="226.3" x2="258" y2="226.3" class="grid" stroke="#909090" stroke-width="0.8"/>
<line x1="41.5" y1="212.5" x2="258" y2="212.5" class="grid" stroke="#909090" stroke-width="0.8"/>
<path d="M46.17 350.5 L47.04 350.5 L47.04 349.81 L47.91 349.81 L48.56 349.81 L48.56 347.39 L49.87 347.39 L49.87 344.98 L50.52 344.98 L50.87 344.98 L50.87 342.68 L51.57 342.68 L51.57 340.38 L52.26 340.38 L52.26 338.08 L52.61 338.08 L52.93 338.08 L52.93 335.92 L53.57 335.92 L53.57 333.76 L54.21 333.76 L54.21 331.59 L54.53 331.59 L54.86 331.59 L54.86 329.44 L55.52 329.44 L55.52 327.29 L56.18 327.29 L56.18 325.14 L56.84 325.14 L56.84 322.98 L57.5 322.98 L57.5 320.83 L57.84 320.83 L58.65 320.83 L58.65 318.35 L60.27 318.35 L60.27 315.86 L61.9 315.86 L61.9 313.38 L62.71 313.38 L63.81 313.38 L63.81 312 L66.02 312 L66.02 310.62 L68.22 310.62 L68.22 309.24 L69.33 309.24 L70.32 309.24 L70.32 308.58 L72.3 308.58 L72.3 307.91 L74.29 307.91 L74.29 307.25 L76.27 307.25 L76.27 306.59 L78.26 306.59 L78.26 305.93 L79.25 305.93 L80.32 305.93 L80.32 305.57 L82.46 305.57 L82.46 305.22 L84.6 305.22 L84.6 304.86 L86.74 304.86 L86.74 304.51 L88.87 304.51 L88.87 304.15 L91.01 304.15 L91.01 303.8 L93.15 303.8 L93.15 303.44 L94.22 303.44 L95.22 303.44 L95.22 301.37 L97.23 301.37 L97.23 299.3 L98.23 299.3 L99.47 299.3 L99.47 298.34 L101.97 298.34 L101.97 297.37 L104.46 297.37 L104.46 296.4 L105.71 296.4 L122.6 296.4 L123.21 296.4 L123.21 294.68 L124.43 294.68 L124.43 292.95 L125.04 292.95 L129.74 292.95 L130.43 292.95 L130.43 291.3 L131.83 291.3 L131.83 289.64 L132.52 289.64 L158.99 289.64 L158.99 286.33 L254.22 286.33 L254.22 309.51 L158.99 309.51 L158.99 311.86 L157.88 311.86 L157.88 311.87 L155.68 311.87 L155.68 311.88 L153.47 311.88 L153.47 311.89 L151.27 311.89 L151.27 311.91 L149.06 311.91 L149.06 311.92 L146.86 311.92 L146.86 311.93 L144.65 311.93 L144.65 311.94 L142.45 311.94 L142.45 311.95 L140.24 311.95 L140.24 311.96 L138.04 311.96 L138.04 311.97 L135.83 311.97 L135.83 311.99 L133.63 311.99 L133.63 312 L132.52 312 L130.96 312 L130.96 313.93 L129.39 313.93 L127.82 313.93 L127.82 316 L126.26 316 L125.43 316 L125.43 316.9 L123.78 316.9 L123.78 317.79 L122.95 317.79 L105.71 317.79 L104.76 317.79 L104.76 318.12 L102.84 318.12 L102.84 318.44 L100.92 318.44 L100.92 318.76 L99.97 318.76 L98.71 318.76 L98.71 320.21 L96.18 320.21 L96.18 321.66 L94.92 321.66 L93.76 321.66 L93.76 321.8 L91.44 321.8 L91.44 321.93 L89.12 321.93 L89.12 322.07 L86.79 322.07 L86.79 322.21 L84.47 322.21 L84.47 322.35 L82.15 322.35 L82.15 322.49 L80.99 322.49 L79.82 322.49 L79.82 322.98 L77.49 322.98 L77.49 323.48 L75.16 323.48 L75.16 323.98 L72.83 323.98 L72.83 324.47 L70.49 324.47 L70.49 324.97 L69.33 324.97 L68.22 324.97 L68.22 326.07 L66.02 326.07 L66.02 327.18 L63.81 327.18 L63.81 328.28 L62.71 328.28 L61.93 328.28 L61.93 329.94 L60.36 329.94 L60.36 331.59 L59.58 331.59 L59.22 331.59 L59.22 333.82 L58.49 333.82 L58.49 336.05 L57.77 336.05 L57.77 338.28 L57.05 338.28 L57.05 340.5 L56.33 340.5 L56.33 342.73 L55.61 342.73 L55.61 344.96 L54.89 344.96 L54.89 347.19 L54.53 347.19 L54.18 347.19 L54.18 348.84 L53.48 348.84 L53.48 350.5 L53.13 350.5 L46.17 350.5Z" fill="#dcdcdc" stroke="none"/>
<path d="M48.26 350.5 L48.26 336.7 L53.31 336.7 L53.66 336.7 L53.66 333.94 L54 333.94 L54.27 333.94 L54.27 332.22 L54.79 332.22 L54.79 330.49 L55.05 330.49 L55.66 330.49 L55.66 328.97 L56.27 328.97 L62.71 328.97 L62.71 326.63 L70.2 326.63 L70.2 324.14 L254.22 324.14 L254.22 344.43 L71.94 344.43 L71.94 346.36 L54.53 346.36 L53.96 346.36 L53.96 348.43 L52.83 348.43 L52.83 350.5 L52.26 350.5 L48.78 350.5Z" fill="#bababa" stroke="none"/>
<line x1="41.5" y1="336.7" x2="258" y2="336.7" class="grid" stroke="#909090" stroke-width="0.8" opacity="0.3"/>
<line x1="41.5" y1="322.9" x2="258" y2="322.9" class="grid" stroke="#909090" stroke-width="0.8" opacity="0.3"/>
<line x1="41.5" y1="309.1" x2="258" y2="309.1" class="grid" stroke="#909090" stroke-width="0.8" opacity="0.3"/>
<line x1="41.5" y1="295.3" x2="258" y2="295.3" class="grid" stroke="#909090" stroke-width="0.8" opacity="0.3"/>
<line x1="41.5" y1="281.5" x2="258" y2="281.5" class="grid" stroke="#909090" stroke-width="0.8" opacity="0.3"/>
<line x1="41.5" y1="267.7" x2="258" y2="267.7" class="grid" stroke="#909090" stroke-width="0.8" opacity="0.3"/>
<line x1="41.5" y1="253.9" x2="258" y2="253.9" class="grid" stroke="#909090" stroke-width="0.8" opacity="0.3"/>
<line x1="41.5" y1="240.1" x2="258" y2="240.1" class="grid" stroke="#909090" stroke-width="0.8" opacity="0.3"/>
<line x1="41.5" y1="226.3" x2="258" y2="226.3" class="grid" stroke="#909090" stroke-width="0.8" opacity="0.3"/>
<rect x="144.9" y="290" width="109" height="7.6" fill="#fff" opacity="0.22"/>
<rect x="154.4" y="326.5" width="99.5" height="7.6" fill="#fff" opacity="0.22"/>
<path d="M46.17 350.5 L47.04 350.5 L47.04 349.81 L47.91 349.81 L48.56 349.81 L48.56 347.39 L49.87 347.39 L49.87 344.98 L50.52 344.98 L50.87 344.98 L50.87 342.68 L51.57 342.68 L51.57 340.38 L52.26 340.38 L52.26 338.08 L52.61 338.08 L52.93 338.08 L52.93 335.92 L53.57 335.92 L53.57 333.76 L54.21 333.76 L54.21 331.59 L54.53 331.59 L54.86 331.59 L54.86 329.44 L55.52 329.44 L55.52 327.29 L56.18 327.29 L56.18 325.14 L56.84 325.14 L56.84 322.98 L57.5 322.98 L57.5 320.83 L57.84 320.83 L58.65 320.83 L58.65 318.35 L60.27 318.35 L60.27 315.86 L61.9 315.86 L61.9 313.38 L62.71 313.38 L63.81 313.38 L63.81 312 L66.02 312 L66.02 310.62 L68.22 310.62 L68.22 309.24 L69.33 309.24 L70.32 309.24 L70.32 308.58 L72.3 308.58 L72.3 307.91 L74.29 307.91 L74.29 307.25 L76.27 307.25 L76.27 306.59 L78.26 306.59 L78.26 305.93 L79.25 305.93 L80.32 305.93 L80.32 305.57 L82.46 305.57 L82.46 305.22 L84.6 305.22 L84.6 304.86 L86.74 304.86 L86.74 304.51 L88.87 304.51 L88.87 304.15 L91.01 304.15 L91.01 303.8 L93.15 303.8 L93.15 303.44 L94.22 303.44 L95.22 303.44 L95.22 301.37 L97.23 301.37 L97.23 299.3 L98.23 299.3 L99.47 299.3 L99.47 298.34 L101.97 298.34 L101.97 297.37 L104.46 297.37 L104.46 296.4 L105.71 296.4 L122.6 296.4 L123.21 296.4 L123.21 294.68 L124.43 294.68 L124.43 292.95 L125.04 292.95 L129.74 292.95 L130.43 292.95 L130.43 291.3 L131.83 291.3 L131.83 289.64 L132.52 289.64 L158.99 289.64 L158.99 286.33 L254.22 286.33" class="ci"/>
<path d="M46.17 350.5 L53.13 350.5 L53.48 350.5 L53.48 348.84 L54.18 348.84 L54.18 347.19 L54.53 347.19 L54.89 347.19 L54.89 344.96 L55.61 344.96 L55.61 342.73 L56.33 342.73 L56.33 340.5 L57.05 340.5 L57.05 338.28 L57.77 338.28 L57.77 336.05 L58.49 336.05 L58.49 333.82 L59.22 333.82 L59.22 331.59 L59.58 331.59 L60.36 331.59 L60.36 329.94 L61.93 329.94 L61.93 328.28 L62.71 328.28 L63.81 328.28 L63.81 327.18 L66.02 327.18 L66.02 326.07 L68.22 326.07 L68.22 324.97 L69.33 324.97 L70.49 324.97 L70.49 324.47 L72.83 324.47 L72.83 323.98 L75.16 323.98 L75.16 323.48 L77.49 323.48 L77.49 322.98 L79.82 322.98 L79.82 322.49 L80.99 322.49 L82.15 322.49 L82.15 322.35 L84.47 322.35 L84.47 322.21 L86.79 322.21 L86.79 322.07 L89.12 322.07 L89.12 321.93 L91.44 321.93 L91.44 321.8 L93.76 321.8 L93.76 321.66 L94.92 321.66 L96.18 321.66 L96.18 320.21 L98.71 320.21 L98.71 318.76 L99.97 318.76 L100.92 318.76 L100.92 318.44 L102.84 318.44 L102.84 318.12 L104.76 318.12 L104.76 317.79 L105.71 317.79 L122.95 317.79 L123.78 317.79 L123.78 316.9 L125.43 316.9 L125.43 316 L126.26 316 L127.82 316 L127.82 313.93 L129.39 313.93 L130.96 313.93 L130.96 312 L132.52 312 L133.63 312 L133.63 311.99 L135.83 311.99 L135.83 311.97 L138.04 311.97 L138.04 311.96 L140.24 311.96 L140.24 311.95 L142.45 311.95 L142.45 311.94 L144.65 311.94 L144.65 311.93 L146.86 311.93 L146.86 311.92 L149.06 311.92 L149.06 311.91 L151.27 311.91 L151.27 311.89 L153.47 311.89 L153.47 311.88 L155.68 311.88 L155.68 311.87 L157.88 311.87 L157.88 311.86 L158.99 311.86 L158.99 309.51 L254.22 309.51" class="ci"/>
<path d="M48.26 350.5 L48.26 336.7 L53.31 336.7 L53.66 336.7 L53.66 333.94 L54 333.94 L54.27 333.94 L54.27 332.22 L54.79 332.22 L54.79 330.49 L55.05 330.49 L55.66 330.49 L55.66 328.97 L56.27 328.97 L62.71 328.97 L62.71 326.63 L70.2 326.63 L70.2 324.14 L254.22 324.14" class="ci" stroke-dasharray="3.7 2"/>
<path d="M48.78 350.5 L52.26 350.5 L52.83 350.5 L52.83 348.43 L53.96 348.43 L53.96 346.36 L54.53 346.36 L71.94 346.36 L71.94 344.43 L254.22 344.43" class="ci" stroke-dasharray="3.7 2"/>
<path d="M45.3 350.5 L47.91 350.5 L48.96 350.5 L48.96 348.02 L51.05 348.02 L51.05 345.53 L52.09 345.53 L52.39 345.53 L52.39 343.29 L53 343.29 L53 341.05 L53.61 341.05 L53.61 338.8 L54.22 338.8 L54.22 336.56 L54.53 336.56 L54.93 336.56 L54.93 334.63 L55.75 334.63 L55.75 332.7 L56.56 332.7 L56.56 330.77 L56.96 330.77 L57.62 330.77 L57.62 328.7 L58.92 328.7 L58.92 326.63 L59.58 326.63 L60.53 326.63 L60.53 324.97 L62.45 324.97 L62.45 323.31 L64.36 323.31 L64.36 321.66 L65.32 321.66 L66.28 321.66 L66.28 320.55 L68.19 320.55 L68.19 319.45 L70.11 319.45 L70.11 318.35 L71.07 318.35 L72.06 318.35 L72.06 317.85 L74.04 317.85 L74.04 317.35 L76.03 317.35 L76.03 316.86 L78.01 316.86 L78.01 316.36 L80 316.36 L80 315.86 L80.99 315.86 L82.09 315.86 L82.09 315.45 L84.3 315.45 L84.3 315.03 L86.5 315.03 L86.5 314.62 L88.71 314.62 L88.71 314.21 L90.91 314.21 L90.91 313.79 L93.12 313.79 L93.12 313.38 L94.22 313.38 L95.18 313.38 L95.18 312.09 L97.09 312.09 L97.09 310.8 L99.01 310.8 L99.01 309.51 L99.97 309.51 L101.22 309.51 L101.22 309.19 L103.71 309.19 L103.71 308.87 L106.21 308.87 L106.21 308.55 L107.45 308.55 L121.73 308.55 L122.95 308.55 L122.95 306.34 L124.17 306.34 L125.21 306.34 L125.21 305.44 L127.3 305.44 L127.3 304.55 L128.35 304.55 L129.35 304.55 L129.35 303.72 L131.35 303.72 L131.35 302.89 L132.35 302.89 L133.66 302.89 L133.66 301.65 L134.96 301.65 L158.99 301.65 L158.99 299.44 L254.22 299.44" class="main" stroke-width="1.6"/>
<path d="M67.93 318.75V321.55M71.41 316.86V319.66M74.9 315.99V318.79M78.38 315.12V317.92M81.86 314.3V317.1M85.34 313.64V316.44M88.83 312.99V315.79M92.31 312.34V315.14M109.72 307.15V309.95M113.2 307.15V309.95M116.68 307.15V309.95M120.16 307.15V309.95M135.83 300.25V303.05M139.31 300.25V303.05M148.02 300.25V303.05M153.24 300.25V303.05M156.72 300.25V303.05M193.29 298.04V300.84M195.03 298.04V300.84M196.77 298.04V300.84M208.95 298.04V300.84M212.44 298.04V300.84M215.92 298.04V300.84M219.4 298.04V300.84M222.88 298.04V300.84M226.36 298.04V300.84M229.85 298.04V300.84M233.33 298.04V300.84M240.29 298.04V300.84M247.26 298.04V300.84M250.74 298.04V300.84M253.35 298.04V300.84" class="tick"/>
<path d="M45.3 350.5 L49.65 350.5 L50.96 350.5 L50.96 348.43 L52.26 348.43 L52.83 348.43 L52.83 346.64 L53.96 346.64 L53.96 344.84 L54.53 344.84 L55.4 344.84 L55.4 343.05 L56.27 343.05 L62.01 343.05 L62.01 340.56 L70.2 340.56 L70.2 338.08 L254.22 338.08" class="main" stroke-width="1.3" stroke-dasharray="4 1.7"/>
<path d="M59.23 341.65V344.45M66.19 339.16V341.96M74.9 336.68V339.48M81.86 336.68V339.48M87.08 336.68V339.48M87.78 336.68V339.48M88.48 336.68V339.48M95.79 336.68V339.48M102.75 336.68V339.48M109.72 336.68V339.48M116.68 336.68V339.48M123.64 336.68V339.48M132.35 336.68V339.48M139.31 336.68V339.48M147.15 336.68V339.48M154.98 336.68V339.48M163.69 336.68V339.48M172.39 336.68V339.48M179.36 336.68V339.48M186.32 336.68V339.48M193.29 336.68V339.48M201.99 336.68V339.48M208.95 336.68V339.48M212.44 336.68V339.48M216.27 336.68V339.48M220.1 336.68V339.48M226.36 336.68V339.48M233.33 336.68V339.48M240.29 336.68V339.48M247.78 336.68V339.48M252.48 336.68V339.48" class="tick"/>
<rect x="41.5" y="209.1" width="216.5" height="145" class="border" stroke="#828282"/>
<text transform="translate(35.6 352.6) scale(0.92 1)" text-anchor="end" class="tl">0</text>
<text transform="translate(35.6 338.8) scale(0.92 1)" text-anchor="end" class="tl">10</text>
<text transform="translate(35.6 325) scale(0.92 1)" text-anchor="end" class="tl">20</text>
<text transform="translate(35.6 311.2) scale(0.92 1)" text-anchor="end" class="tl">30</text>
<text transform="translate(35.6 297.4) scale(0.92 1)" text-anchor="end" class="tl">40</text>
<text transform="translate(35.6 283.6) scale(0.92 1)" text-anchor="end" class="tl">50</text>
<text transform="translate(35.6 269.8) scale(0.92 1)" text-anchor="end" class="tl">60</text>
<text transform="translate(35.6 256) scale(0.92 1)" text-anchor="end" class="tl">70</text>
<text transform="translate(35.6 242.2) scale(0.92 1)" text-anchor="end" class="tl">80</text>
<text transform="translate(35.6 228.4) scale(0.92 1)" text-anchor="end" class="tl">90</text>
<text transform="translate(35.6 214.6) scale(0.92 1)" text-anchor="end" class="tl">100</text>
<text transform="translate(45.5 364.5) scale(0.92 1)" text-anchor="middle" class="tl">0</text>
<text transform="translate(66.34 364.5) scale(0.92 1)" text-anchor="middle" class="tl">12</text>
<text transform="translate(87.18 364.5) scale(0.92 1)" text-anchor="middle" class="tl">24</text>
<text transform="translate(108.02 364.5) scale(0.92 1)" text-anchor="middle" class="tl">36</text>
<text transform="translate(128.86 364.5) scale(0.92 1)" text-anchor="middle" class="tl">48</text>
<text transform="translate(149.7 364.5) scale(0.92 1)" text-anchor="middle" class="tl">60</text>
<text transform="translate(170.54 364.5) scale(0.92 1)" text-anchor="middle" class="tl">72</text>
<text transform="translate(191.38 364.5) scale(0.92 1)" text-anchor="middle" class="tl">84</text>
<text transform="translate(212.22 364.5) scale(0.92 1)" text-anchor="middle" class="tl">96</text>
<text transform="translate(233.06 364.5) scale(0.92 1)" text-anchor="middle" class="tl">108</text>
<text transform="translate(253.9 364.5) scale(0.92 1)" text-anchor="middle" class="tl">120</text>
<path d="M38.2 350.5H41.5M38.2 336.7H41.5M38.2 322.9H41.5M38.2 309.1H41.5M38.2 295.3H41.5M38.2 281.5H41.5M38.2 267.7H41.5M38.2 253.9H41.5M38.2 240.1H41.5M38.2 226.3H41.5M38.2 212.5H41.5M45.5 354.1V357.1M66.34 354.1V357.1M87.18 354.1V357.1M108.02 354.1V357.1M128.86 354.1V357.1M149.7 354.1V357.1M170.54 354.1V357.1M191.38 354.1V357.1M212.22 354.1V357.1M233.06 354.1V357.1M253.9 354.1V357.1" class="axt"/>
<text transform="translate(16.7 282) rotate(-90)" text-anchor="middle" class="tt" style="font-size:6.1px">Cumulative Relapse Incidence (%)</text>
<text x="149.4" y="375.4" text-anchor="middle" class="tt">Time after Transplantation (Months)</text>
<text x="251.4" y="295.9" text-anchor="end" class="lb" style="font-size:6.88px">patients without pp65-antigenemia</text>
<text x="251.4" y="332.4" text-anchor="end" class="lb" style="font-size:6.88px">patients with pp65-antigenemia</text>
<text x="1.8" y="212.7" class="pl" style="font-size:11px">C</text>
</g>
</svg>
</body></html>
